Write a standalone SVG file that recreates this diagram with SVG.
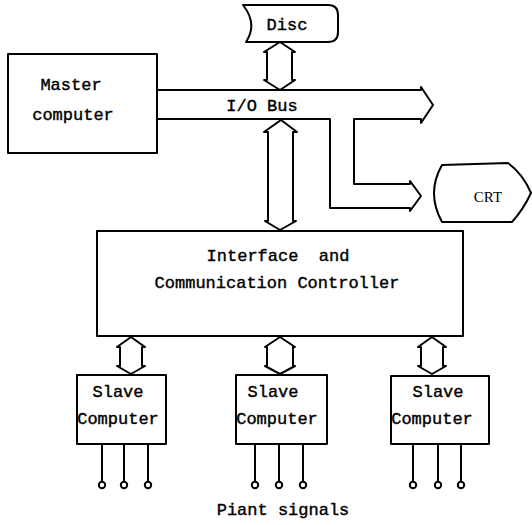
<svg xmlns="http://www.w3.org/2000/svg" width="532" height="525" viewBox="0 0 532 525">
  <style>
    .box { fill: #fff; stroke: #000; stroke-width: 2; stroke-linejoin: round; }
    .line { fill: none; stroke: #000; stroke-width: 2; }
    .pin { fill: #fff; stroke: #000; stroke-width: 2; }
    .t { font-family: "Liberation Mono", "DejaVu Sans Mono", monospace; font-size: 17px; fill: #000; stroke: #000; stroke-width: 0.4; text-anchor: middle; }
    .serif { font-family: "Liberation Serif", "Times New Roman", serif; font-size: 15px; fill: #000; text-anchor: middle; }
  </style>
  <rect width="532" height="525" fill="#fff"/>

  <!-- connectors: bus, branch to CRT, bidirectional links -->
  <g id="connectors">
    <!-- I/O bus with branch down and across to the CRT -->
    <path class="box" d="M157,90 L421,90 L421,87 L433,105 L421,123 L421,119 L354,119 L354,184 L410,184 L410,181 L421,196 L410,211 L410,208 L330,208 L330,119 L157,119"/>
    <!-- disc <-> bus -->
    <path class="box" d="M280,42 L295,52 L292,52 L292,80 L295,80 L280,90 L264,80 L267,80 L267,52 L264,52 Z"/>
    <!-- bus <-> controller -->
    <path class="box" d="M281,120 L297,132 L293,132 L293,221 L296,221 L280,230 L265,221 L268,221 L268,132 L264,132 Z"/>
    <!-- controller <-> slaves -->
    <path class="box" d="M131,337 L145,347 L142,347 L142,366 L145,366 L131,374 L117,366 L120,366 L120,347 L117,347 Z"/>
    <path class="box" d="M280,337 L295,347 L293,347 L293,366 L295,366 L280,374 L265,366 L267,366 L267,347 L265,347 Z"/>
    <path class="box" d="M432,337 L446,347 L443,347 L443,366 L446,366 L432,374 L418,366 L421,366 L421,347 L418,347 Z"/>
    <!-- plant signal leads -->
    <path class="line" d="M102,444 V482 M124,444 V482 M148,444 V482 M255,444 V482 M279,444 V482 M303,444 V482 M413,444 V482 M438,444 V482 M461,444 V482"/>
    <circle class="pin" cx="102" cy="485" r="3.2"/>
    <circle class="pin" cx="124" cy="485" r="3.2"/>
    <circle class="pin" cx="148" cy="485" r="3.2"/>
    <circle class="pin" cx="255" cy="485" r="3.2"/>
    <circle class="pin" cx="279" cy="485" r="3.2"/>
    <circle class="pin" cx="303" cy="485" r="3.2"/>
    <circle class="pin" cx="413" cy="485" r="3.2"/>
    <circle class="pin" cx="438" cy="485" r="3.2"/>
    <circle class="pin" cx="461" cy="485" r="3.2"/>
  </g>

  <text class="t" x="262" y="111">I/O Bus</text>

  <g id="master">
    <rect class="box" x="8" y="54" width="149" height="99"/>
    <text class="t" x="71" y="90">Master</text>
    <text class="t" x="73" y="120">computer</text>
  </g>

  <g id="disc">
    <path class="box" d="M243,5 L328,5 Q338,5 338,15 L338,32 Q338,42 328,42 L246,42 Q258,24 243,5 Z"/>
    <text class="t" x="287" y="30">Disc</text>
  </g>

  <g id="crt">
    <path class="box" d="M442,165 L508,163 Q523,174 531,193 Q523,210 512,222 L442,222 Q426,193 442,165 Z"/>
    <text class="serif" x="488" y="202">CRT</text>
  </g>

  <g id="controller">
    <rect class="box" x="97" y="231" width="366" height="105"/>
    <text class="t" x="278" y="261" xml:space="preserve">Interface  and</text>
    <text class="t" x="277" y="288">Communication Controller</text>
  </g>

  <g id="slave1">
    <rect class="box" x="77" y="375" width="89" height="69"/>
    <text class="t" x="118" y="397">Slave</text>
    <text class="t" x="118" y="424">Computer</text>
  </g>
  <g id="slave2">
    <rect class="box" x="236" y="375" width="91" height="69"/>
    <text class="t" x="273" y="397">Slave</text>
    <text class="t" x="277" y="424">Computer</text>
  </g>
  <g id="slave3">
    <rect class="box" x="391" y="376" width="98" height="68"/>
    <text class="t" x="438" y="397">Slave</text>
    <text class="t" x="432" y="424">Computer</text>
  </g>

  <text class="t" x="283" y="515">Piant signals</text>
</svg>
